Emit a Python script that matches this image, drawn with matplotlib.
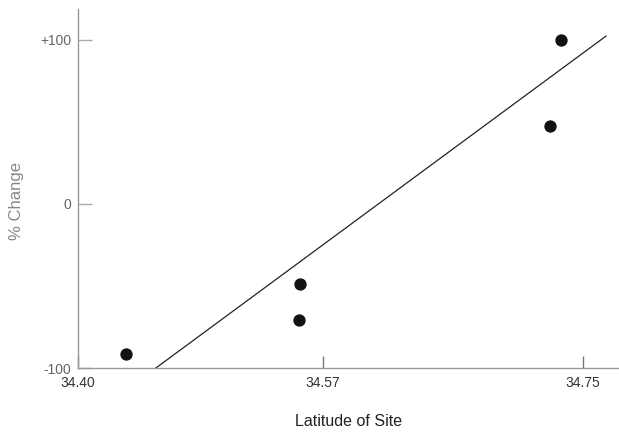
import matplotlib.pyplot as plt

# site latitude vs percent change
latitude = [34.433, 34.554, 34.553, 34.727, 34.735]
pct_change = [-91.5, -48.8, -70.7, 47.6, 100.0]

# trend line as drawn
fit_x = [34.454, 34.766]
fit_y = [-100.0, 102.4]

xticks = [34.40, 34.57, 34.75]
xtick_labels = ['34.40', '34.57', '34.75']
yticks = [-100, 0, 100]
ytick_labels = ['-100', '0', '+100']

plt.rcParams['font.family'] = ['Liberation Sans', 'DejaVu Sans']

fig = plt.figure(figsize=(6.19, 4.33), dpi=100)
ax = fig.add_axes([78 / 619, 65 / 433, 541 / 619, 359 / 433])

ax.plot(fit_x, fit_y, color='#222222', lw=0.9)
ax.scatter(latitude, pct_change, s=62, color='#111111', zorder=3)

ax.set_xlim(34.40, 34.775)
ax.set_ylim(-100, 118.9)

ax.set_xticks(xticks)
ax.set_xticklabels(xtick_labels)
ax.set_yticks(yticks)
ax.set_yticklabels(ytick_labels)

for s in ['top', 'right']:
    ax.spines[s].set_visible(False)
for s in ['left', 'bottom']:
    ax.spines[s].set_color('#9a9a9a')
    ax.spines[s].set_linewidth(1.0)

ax.tick_params(axis='x', direction='in', length=9, width=1, color='#777777',
               labelsize=10, labelcolor='#333333', pad=6)
ax.tick_params(axis='y', direction='in', length=10, width=1, color='#aaaaaa',
               labelsize=10, labelcolor='#666666', pad=5)

ax.set_xlabel('Latitude of Site', fontsize=11.5, color='#222222', labelpad=17)
ax.set_ylabel('% Change', fontsize=12, color='#888888')
ax.yaxis.set_label_coords(-0.1, 0.464)

fig.savefig('out.png', dpi=100)
